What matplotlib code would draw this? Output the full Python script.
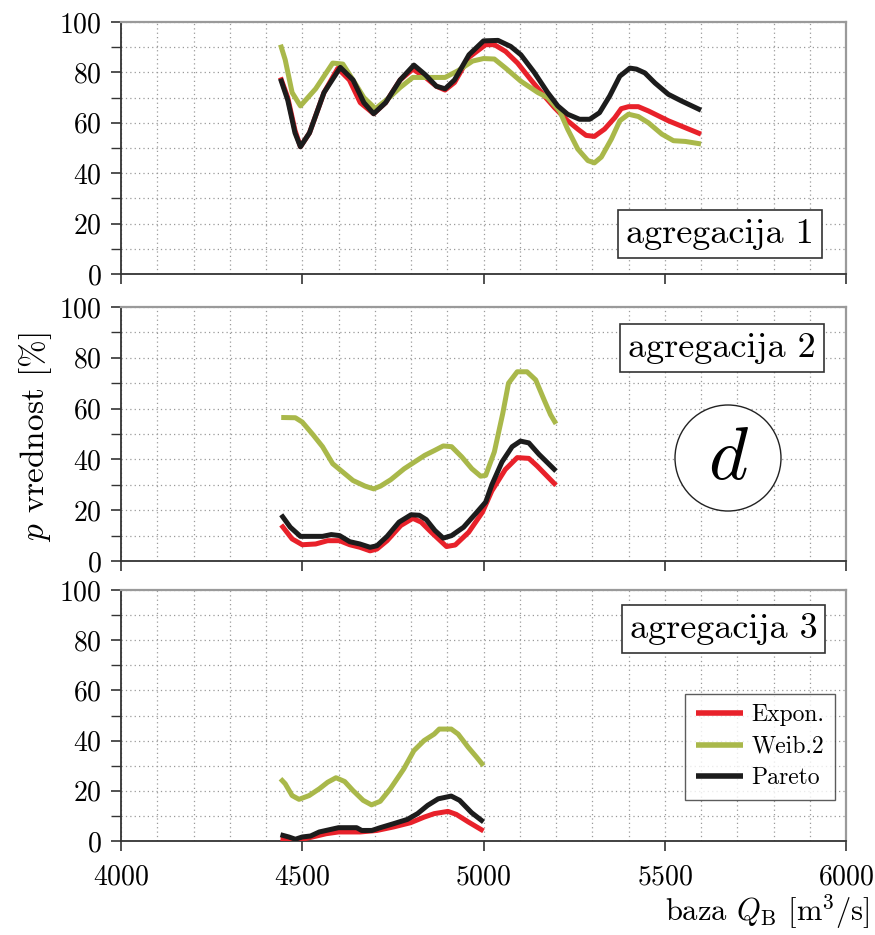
import matplotlib
matplotlib.use("Agg")
import matplotlib.pyplot as plt
from matplotlib.patches import Ellipse
from matplotlib.ticker import MultipleLocator

plt.rcParams['font.family'] = ['cmr10', 'DejaVu Serif']
plt.rcParams['mathtext.fontset'] = 'cm'
plt.rcParams['axes.formatter.use_mathtext'] = True

# ---------------- data ----------------
# agregacija 1
a1_exp_x = [4440, 4460, 4480, 4495, 4520, 4560, 4598, 4630, 4660, 4697, 4730, 4770, 4805, 4840, 4870, 4894, 4920, 4960, 5006, 5030, 5061, 5094, 5131, 5168, 5196, 5232, 5260, 5283, 5306, 5334, 5362, 5380, 5400, 5427, 5455, 5510, 5566, 5600]
a1_exp_y = [78, 70, 57, 50.5, 56, 72, 81.6, 77, 68, 63.6, 68, 77, 81.3, 78, 74.5, 73, 76, 86, 91, 91, 88.3, 83.7, 77, 70.6, 66, 60.8, 57.5, 55, 54.6, 57.5, 62, 65.6, 66.4, 66.4, 64.7, 60.8, 57.5, 55.5]

a1_wei_x = [4440, 4453, 4472, 4495, 4537, 4584, 4612, 4640, 4670, 4702, 4740, 4770, 4805, 4850, 4894, 4930, 4970, 5000, 5030, 5061, 5103, 5150, 5177, 5210, 5232, 5260, 5288, 5306, 5325, 5353, 5376, 5400, 5427, 5455, 5492, 5524, 5557, 5600]
a1_wei_y = [91, 85, 72, 66.7, 73.5, 83.7, 83.3, 77, 70, 65.6, 70, 74, 78, 78, 78, 80.7, 84.5, 85.5, 85.3, 81.7, 76.5, 72, 70, 64.7, 57.5, 49.6, 45, 44.1, 46.4, 53.6, 60.8, 63.4, 62.5, 60, 55.5, 52.9, 52.6, 51.6]

a1_par_x = [4440, 4460, 4480, 4495, 4520, 4560, 4605, 4640, 4670, 4697, 4730, 4770, 4808, 4840, 4870, 4894, 4920, 4960, 5000, 5040, 5075, 5103, 5140, 5177, 5205, 5232, 5265, 5293, 5320, 5348, 5376, 5404, 5422, 5445, 5473, 5510, 5547, 5600]
a1_par_y = [77.5, 69, 56, 50.5, 56, 72, 82, 77, 68, 63.6, 68, 77, 82.9, 79, 74.5, 73.5, 77, 87, 92.5, 92.7, 90.3, 87, 80, 72, 66.7, 63.4, 61.4, 61.4, 64, 70.6, 78.5, 81.7, 81.3, 79.8, 75.8, 71.3, 68.6, 65]

# agregacija 2
a2_exp_x = [4442, 4472, 4500, 4537, 4570, 4603, 4631, 4659, 4687, 4706, 4734, 4772, 4805, 4828, 4856, 4898, 4922, 4959, 4997, 5023, 5060, 5093, 5125, 5148, 5200]
a2_exp_y = [14.2, 8.7, 6.4, 6.7, 8, 8, 6.4, 5.4, 4, 4.7, 8, 14, 16.8, 15.3, 11.3, 5.7, 6.3, 11.3, 19.2, 27.6, 36, 40.7, 40.4, 37.4, 29.8]

a2_wei_x = [4442, 4481, 4500, 4528, 4556, 4584, 4612, 4640, 4673, 4697, 4716, 4744, 4781, 4810, 4838, 4866, 4889, 4912, 4940, 4968, 4992, 5006, 5030, 5053, 5069, 5093, 5120, 5144, 5167, 5185, 5200]
a2_wei_y = [56.5, 56.4, 54.7, 50, 45, 38.3, 35, 31.7, 29.5, 28.4, 29.5, 32, 36.3, 39, 41.6, 43.6, 45.3, 45, 41, 36.3, 33.4, 33.7, 43, 58, 70, 74.5, 74.5, 71.3, 63.5, 57.6, 54]

a2_par_x = [4442, 4467, 4495, 4556, 4580, 4603, 4631, 4659, 4687, 4706, 4734, 4767, 4800, 4823, 4842, 4866, 4889, 4912, 4945, 4978, 5006, 5023, 5051, 5079, 5102, 5125, 5153, 5200]
a2_par_y = [18.2, 13.3, 9.7, 9.7, 10.4, 10, 7.6, 6.7, 5.4, 6, 9.7, 15.3, 18.2, 18, 16.3, 12, 9, 10, 13.3, 18.6, 23.2, 30, 39, 45, 47.2, 46.5, 42, 35.4]

# agregacija 3
a3_exp_x = [4440, 4463, 4500, 4528, 4566, 4600, 4660, 4706, 4752, 4799, 4836, 4864, 4902, 4925, 4958, 5000]
a3_exp_y = [0.7, 0.3, 0.7, 1.6, 2.9, 3.6, 3.6, 4.2, 5.6, 7.3, 9.5, 10.9, 11.8, 10.6, 7.6, 4]

a3_wei_x = [4440, 4453, 4472, 4491, 4519, 4547, 4570, 4593, 4617, 4640, 4668, 4691, 4715, 4743, 4780, 4808, 4836, 4864, 4878, 4911, 4930, 4958, 4981, 5000]
a3_wei_y = [24.8, 22.8, 18.1, 16.6, 18.1, 20.8, 23.4, 25.2, 23.7, 20.1, 16.2, 14.4, 15.8, 20.8, 28.7, 36, 40, 42.6, 44.6, 44.6, 42.6, 37.3, 33.4, 30]

a3_par_x = [4440, 4463, 4481, 4500, 4523, 4547, 4575, 4600, 4650, 4664, 4692, 4715, 4752, 4790, 4818, 4846, 4875, 4911, 4934, 4967, 5000]
a3_par_y = [2.5, 1.6, 0.7, 1.6, 2, 3.6, 4.5, 5.3, 5.3, 4.2, 4.2, 5.3, 6.9, 8.6, 10.9, 14.2, 16.8, 17.9, 16.2, 11.3, 7.6]

series_names = ["Expon.", "Weib.2", "Pareto"]
panel_labels = ["agregacija 1", "agregacija 2", "agregacija 3"]
x_ticks = [4000, 4500, 5000, 5500, 6000]
y_ticks = [0, 20, 40, 60, 80, 100]

panels = [
    [(a1_exp_x, a1_exp_y), (a1_wei_x, a1_wei_y), (a1_par_x, a1_par_y)],
    [(a2_exp_x, a2_exp_y), (a2_wei_x, a2_wei_y), (a2_par_x, a2_par_y)],
    [(a3_exp_x, a3_exp_y), (a3_wei_x, a3_wei_y), (a3_par_x, a3_par_y)],
]

colors = ["#e8212a", "#a9b84a", "#1c1c1c"]

# ---------------- layout ----------------
W, H = 875, 935
fig = plt.figure(figsize=(W / 100, H / 100), dpi=100)

left = 121 / W
width = (846 - 121) / W
rects = [(22, 274), (307, 561), (590, 841)]

axes = []
for (top, bot) in rects:
    ax = fig.add_axes([left, 1 - bot / H, width, (bot - top) / H])
    axes.append(ax)

label_pos = [(0.826, 0.159), (0.829, 0.839), (0.831, 0.845)]

for i, ax in enumerate(axes):
    for j, (xs, ys) in enumerate(panels[i]):
        ax.plot(xs, ys, color=colors[j], lw=3.6, solid_joinstyle='round',
                solid_capstyle='butt', label=series_names[j], zorder=3)
    ax.set_xlim(4000, 6000)
    ax.set_ylim(0, 100)
    ax.set_xticks(x_ticks)
    ax.set_yticks(y_ticks)
    ax.yaxis.set_minor_locator(MultipleLocator(10))
    ax.xaxis.set_minor_locator(MultipleLocator(100))
    ax.grid(True, which='both', axis='both', linestyle=(0, (1, 2.5)),
            color='#9a9a9a', lw=0.9)
    ax.tick_params(axis='x', which='minor', length=0)
    ax.tick_params(axis='both', which='major', direction='out', length=7,
                   width=1.2, labelsize=20, color='#333333')
    ax.tick_params(axis='y', which='minor', direction='out', length=7,
                   width=1.0, color='#333333')
    ax.tick_params(axis='y', pad=7)
    ax.tick_params(axis='x', pad=10)
    if i < 2:
        ax.tick_params(axis='x', labelbottom=False)
    for s in ['left', 'bottom']:
        ax.spines[s].set_color('#333333')
        ax.spines[s].set_linewidth(1.3)
    for s in ['top', 'right']:
        ax.spines[s].set_color('#9a9a9a')
        ax.spines[s].set_linewidth(1.6)
    lx, ly = label_pos[i]
    ax.text(lx, ly, panel_labels[i], transform=ax.transAxes, fontsize=26,
            ha='center', va='center', zorder=5,
            bbox=dict(boxstyle='square,pad=0.22', fc='white', ec='#333333', lw=1.2))

# legend in bottom panel
leg = axes[2].legend(loc='lower right', bbox_to_anchor=(0.985, 0.163),
                     fontsize=17, frameon=True, fancybox=False, handlelength=2.0,
                     borderpad=0.45, labelspacing=0.4, handletextpad=0.35,
                     borderaxespad=0.0)
leg.get_frame().set_edgecolor('#333333')
leg.get_frame().set_linewidth(1.0)
for line in leg.get_lines():
    line.set_linewidth(4.0)

# circle with d
ell = Ellipse((728 / W, 1 - 458 / H), 106 / W, 106 / H, transform=fig.transFigure,
              fc='white', ec='#222222', lw=1.0, zorder=6)
fig.patches.append(ell)
fig.text(728 / W, 1 - 460 / H, r"$d$", fontsize=54, ha='center', va='center', zorder=7)

# axis labels
fig.text(36 / W, 1 - 437 / H, r"$p$ vrednost [%]", rotation=90, fontsize=24,
         ha='center', va='center')
fig.text(870 / W, 1 - 912 / H, r"baza $Q_\mathrm{B}$ [m$^3$/s]", fontsize=22,
         ha='right', va='center')

fig.savefig("out.png", dpi=100)
